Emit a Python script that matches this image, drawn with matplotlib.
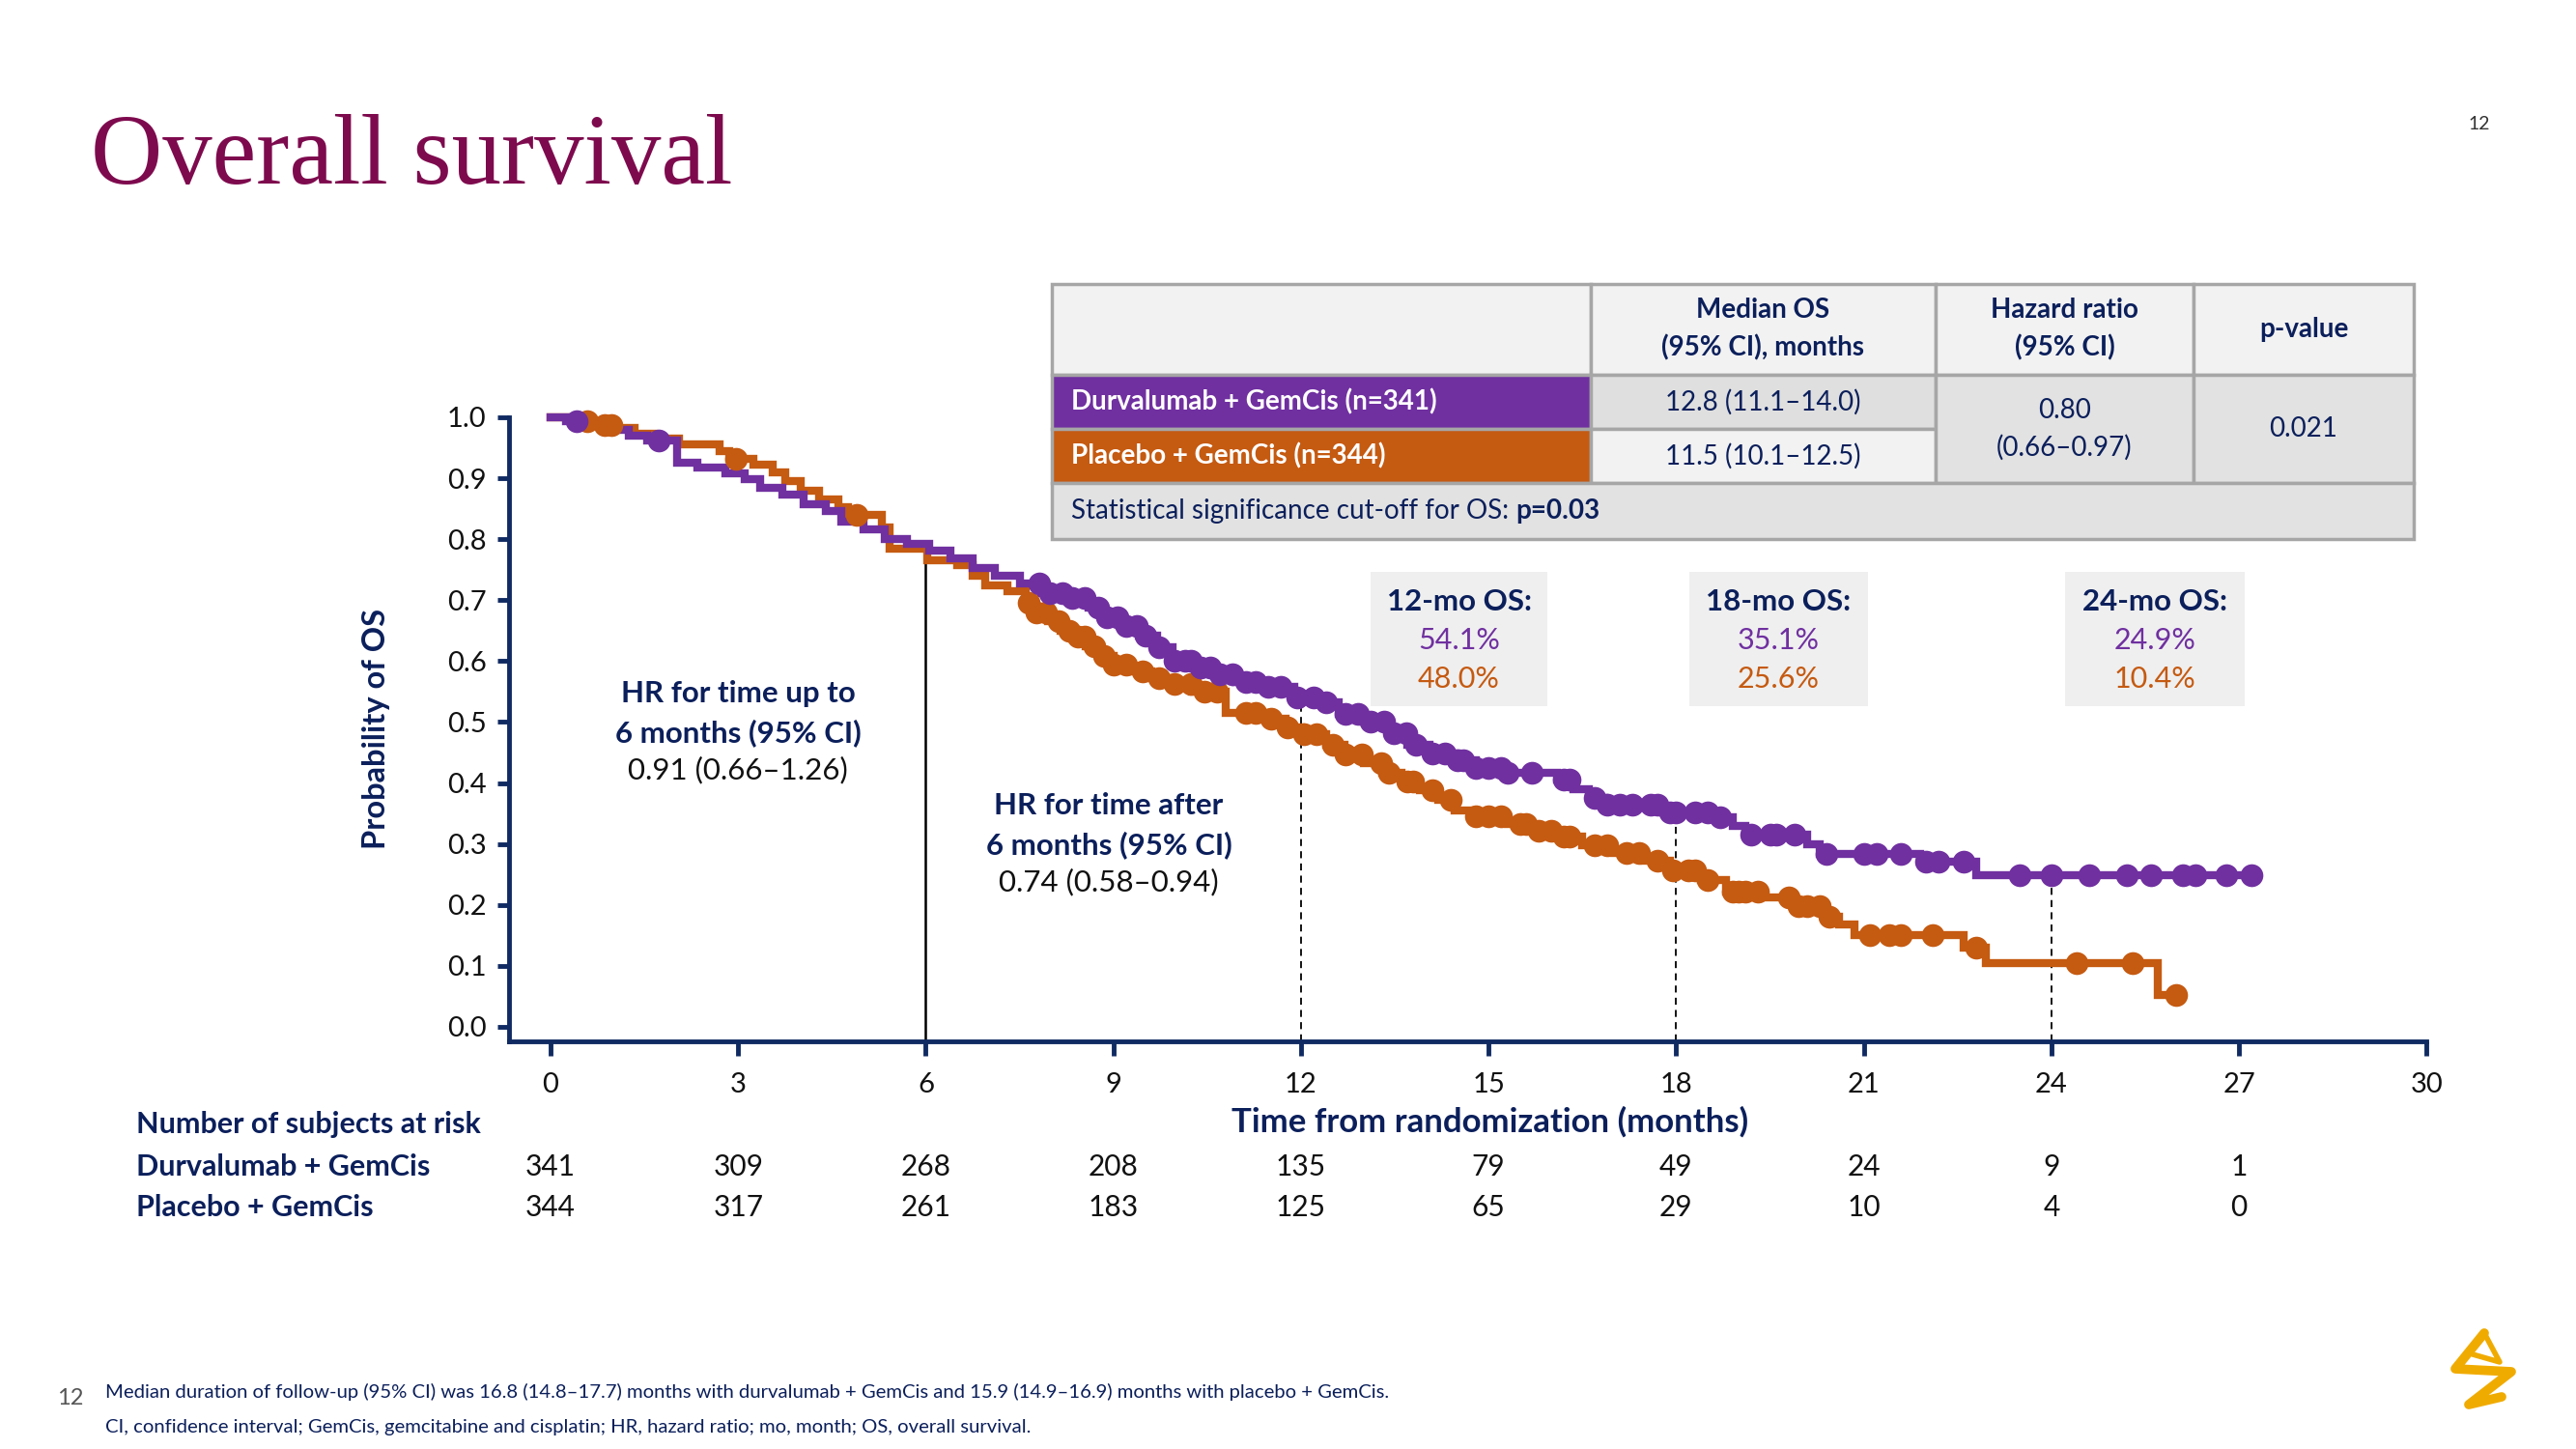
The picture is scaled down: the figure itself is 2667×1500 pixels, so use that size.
import numpy as np
import matplotlib.pyplot as plt
from matplotlib import transforms
from matplotlib.patches import Rectangle

plt.rcParams['font.family'] = ['Lato', 'DejaVu Sans']

NAVY = '#0B1F5B'
AXIS = '#102A62'
PURPLE = '#7030A0'
ORANGE = '#C55A11'
DARK = '#111111'

# ---- data ----
dur_times = [0, 0.25, 0.55, 0.9, 1.25, 1.55, 2.02, 2.35, 2.8, 3.1, 3.35, 3.7, 4.05, 4.4,
             4.65, 5.0, 5.35, 5.7, 6.05, 6.4, 6.75, 7.1, 7.5, 7.85, 8.3, 8.6, 8.85, 9.1,
             9.4, 9.7, 9.95, 10.3, 10.6, 10.95, 11.4, 11.9, 12.3, 12.6, 13.0, 13.4, 13.7,
             14.05, 14.5, 14.8, 15.3, 16.1, 16.35, 16.6, 16.85, 17.8, 18.7, 18.9, 19.1,
             20.1, 20.3, 21.9, 22.8]
dur_surv = [1.0, 0.994, 0.988, 0.979, 0.970, 0.962, 0.925, 0.917, 0.908, 0.899, 0.884,
            0.873, 0.858, 0.846, 0.829, 0.816, 0.801, 0.793, 0.781, 0.768, 0.752, 0.740,
            0.727, 0.712, 0.703, 0.688, 0.672, 0.657, 0.641, 0.622, 0.600, 0.590, 0.578,
            0.566, 0.557, 0.541, 0.532, 0.514, 0.500, 0.481, 0.463, 0.448, 0.437, 0.424,
            0.416, 0.405, 0.390, 0.375, 0.364, 0.351, 0.344, 0.330, 0.316, 0.300, 0.283,
            0.271, 0.249]
dur_end = 27.2
dur_censor = [0.42, 1.73, 7.82, 7.98, 8.18, 8.34, 8.54, 8.75, 8.90, 9.06, 9.21, 9.37,
              9.52, 9.73, 9.98, 10.14, 10.24, 10.40, 10.55, 10.71, 10.91, 11.12, 11.28,
              11.48, 11.68, 11.94, 12.20, 12.40, 12.71, 12.92, 13.12, 13.33, 13.49, 13.69,
              13.84, 14.10, 14.31, 14.5, 14.6, 14.8, 15.0, 15.2, 15.3, 15.7, 16.2, 16.3,
              16.7, 16.9, 17.1, 17.3, 17.6, 17.7, 17.9, 18.0, 18.3, 18.5, 18.7, 19.2,
              19.5, 19.6, 19.9, 20.4, 21.0, 21.2, 21.6, 22.0, 22.2, 22.6, 23.5, 24.0,
              24.6, 25.2, 25.6, 26.1, 26.3, 26.8, 27.2]

pbo_times = [0, 0.35, 0.75, 1.05, 1.35, 1.65, 2.05, 2.7, 2.85, 3.25, 3.55, 3.75, 4.0,
             4.3, 4.6, 4.75, 5.3, 5.42, 6.02, 6.5, 6.75, 6.95, 7.3, 7.6, 7.75, 7.95,
             8.15, 8.35, 8.55, 8.8, 9.0, 9.3, 9.6, 9.9, 10.25, 10.8, 11.5, 11.75, 12.0,
             12.4, 12.7, 13.0, 13.3, 13.6, 13.9, 14.2, 14.45, 14.8, 15.3, 15.7, 16.1,
             16.5, 17.0, 17.5, 17.9, 18.4, 18.8, 19.4, 19.9, 20.4, 20.6, 20.85, 22.6,
             22.95, 25.7]
pbo_surv = [1.0, 0.994, 0.988, 0.982, 0.973, 0.965, 0.956, 0.944, 0.932, 0.922, 0.910,
            0.895, 0.880, 0.866, 0.853, 0.840, 0.820, 0.785, 0.765, 0.757, 0.740, 0.724,
            0.714, 0.695, 0.680, 0.665, 0.650, 0.640, 0.625, 0.608, 0.595, 0.583, 0.572,
            0.562, 0.550, 0.515, 0.505, 0.492, 0.480, 0.462, 0.447, 0.432, 0.417, 0.402,
            0.388, 0.372, 0.355, 0.345, 0.333, 0.322, 0.312, 0.298, 0.285, 0.272, 0.256,
            0.240, 0.222, 0.212, 0.198, 0.180, 0.168, 0.150, 0.130, 0.104, 0.052]
pbo_end = 26.0
pbo_censor = [0.58, 0.87, 0.97, 2.97, 4.9, 7.65, 7.77, 7.93, 8.13, 8.29, 8.44, 8.54,
              8.70, 8.85, 9.01, 9.21, 9.47, 9.73, 9.98, 10.24, 10.45, 10.65, 11.12,
              11.28, 11.53, 11.79, 12.05, 12.25, 12.51, 12.71, 12.97, 13.28, 13.4, 13.7,
              13.8, 14.1, 14.4, 14.8, 15.0, 15.2, 15.5, 15.6, 15.8, 16.0, 16.2, 16.3,
              16.7, 16.9, 17.2, 17.4, 17.7, 17.95, 18.2, 18.3, 18.5, 18.9, 19.0, 19.1,
              19.3, 19.8, 19.95, 20.1, 20.3, 20.45, 21.1, 21.4, 21.6, 22.1, 22.8, 24.4,
              25.3, 26.0]

landmarks = [12, 18, 24]
os_labels = ['12-mo OS:', '18-mo OS:', '24-mo OS:']
os_dur = ['54.1%', '35.1%', '24.9%']
os_pbo = ['48.0%', '25.6%', '10.4%']

risk_times = [0, 3, 6, 9, 12, 15, 18, 21, 24, 27]
risk_dur = [341, 309, 268, 208, 135, 79, 49, 24, 9, 1]
risk_pbo = [344, 317, 261, 183, 125, 65, 29, 10, 4, 0]


def surv_at(times, surv, t):
    idx = np.searchsorted(times, t, side='right') - 1
    return np.asarray(surv)[idx]


fig = plt.figure(figsize=(26.67, 15), dpi=100)
ax = fig.add_axes([0.1977, 0.2813, 0.7443, 0.4307])

# curves
for times, surv, end, cens, col in [(pbo_times, pbo_surv, pbo_end, pbo_censor, ORANGE),
                                     (dur_times, dur_surv, dur_end, dur_censor, PURPLE)]:
    ax.step(times + [end], surv + [surv[-1]], where='post', color=col, lw=6,
            solid_joinstyle='miter', clip_on=False, zorder=3)
    ax.plot(cens, surv_at(times, surv, cens), 'o', color=col, ms=17, mew=0,
            clip_on=False, zorder=4)

# landmark lines
for lm in landmarks:
    ax.plot([lm, lm], [-0.024, surv_at(dur_times, dur_surv, lm)], color='black', lw=1.3,
            ls=(0, (4, 3)), zorder=2)
ax.plot([6, 6], [-0.024, surv_at(pbo_times, pbo_surv, 6.1)], color='black', lw=1.8, zorder=2)

ax.set_xlim(-0.66, 30)
ax.set_ylim(-0.024, 1.0)
ax.set_xticks(range(0, 31, 3))
ax.set_yticks(np.arange(0, 1.01, 0.1))
ax.set_yticklabels([f'{v:.1f}' for v in np.arange(0, 1.01, 0.1)])
for s in ['top', 'right']:
    ax.spines[s].set_visible(False)
for s in ['left', 'bottom']:
    ax.spines[s].set_color(AXIS)
    ax.spines[s].set_linewidth(3.5)
ax.tick_params(axis='x', length=11, width=3.5, color=AXIS, pad=12, labelsize=21,
               labelcolor=DARK)
ax.tick_params(axis='y', length=9, width=3.5, color=AXIS, pad=8, labelsize=21,
               labelcolor=DARK)
ax.patch.set_alpha(0)

# overlay in pixel coordinates of the slide
ov = fig.add_axes([0, 0, 1, 1], zorder=-1)
ov.set_xlim(0, 2667)
ov.set_ylim(1500, 0)
ov.axis('off')
top = fig.add_axes([0, 0, 1, 1], zorder=5)
top.set_xlim(0, 2667)
top.set_ylim(1500, 0)
top.axis('off')

top.text(94, 190, 'Overall survival', family='Liberation Serif', fontsize=74,
         color='#7E0A4E', va='baseline')
top.text(2567, 129, '12', fontsize=14, color='#333333', ha='center', va='center')

# table
tx = [1089, 1647, 2004, 2271, 2499]
ty = [294, 388, 444, 500, 558]
GRID = '#A6A6A6'
cells = [
    (tx[0], ty[0], tx[1], ty[1], '#F2F2F2'), (tx[1], ty[0], tx[2], ty[1], '#F2F2F2'),
    (tx[2], ty[0], tx[3], ty[1], '#F2F2F2'), (tx[3], ty[0], tx[4], ty[1], '#F2F2F2'),
    (tx[0], ty[1], tx[1], ty[2], PURPLE), (tx[1], ty[1], tx[2], ty[2], '#DFDFDF'),
    (tx[0], ty[2], tx[1], ty[3], ORANGE), (tx[1], ty[2], tx[2], ty[3], '#F2F2F2'),
    (tx[2], ty[1], tx[3], ty[3], '#E2E2E2'), (tx[3], ty[1], tx[4], ty[3], '#E2E2E2'),
    (tx[0], ty[3], tx[4], ty[4], '#E2E2E2'),
]
for x0, y0, x1, y1, fc in cells:
    top.add_patch(Rectangle((x0, y0), x1 - x0, y1 - y0, facecolor=fc, edgecolor=GRID,
                            lw=2.5))
TS = 20
hdr_y = (ty[0] + ty[1]) / 2
top.text((tx[1] + tx[2]) / 2, hdr_y, 'Median OS\n(95% CI), months', ha='center',
         va='center', fontsize=TS, weight='bold', color=NAVY, linespacing=1.55)
top.text((tx[2] + tx[3]) / 2, hdr_y, 'Hazard ratio\n(95% CI)', ha='center', va='center',
         fontsize=TS, weight='bold', color=NAVY, linespacing=1.55)
top.text((tx[3] + tx[4]) / 2, hdr_y, 'p-value', ha='center', va='center', fontsize=TS,
         weight='bold', color=NAVY)
r1 = (ty[1] + ty[2]) / 2
r2 = (ty[2] + ty[3]) / 2
top.text(tx[0] + 20, r1, 'Durvalumab + GemCis (n=341)', va='center', fontsize=TS,
         weight='bold', color='white')
top.text(tx[0] + 20, r2, 'Placebo + GemCis (n=344)', va='center', fontsize=TS,
         weight='bold', color='white')
top.text((tx[1] + tx[2]) / 2, r1, '12.8 (11.1\u201314.0)', ha='center', va='center',
         fontsize=TS, color=NAVY)
top.text((tx[1] + tx[2]) / 2, r2, '11.5 (10.1\u201312.5)', ha='center', va='center',
         fontsize=TS, color=NAVY)
top.text((tx[2] + tx[3]) / 2, ty[2], '0.80\n(0.66\u20130.97)', ha='center', va='center',
         fontsize=TS, color=NAVY, linespacing=1.55)
top.text((tx[3] + tx[4]) / 2, ty[2], '0.021', ha='center', va='center', fontsize=TS,
         color=NAVY)
t1 = top.text(tx[0] + 20, (ty[3] + ty[4]) / 2, 'Statistical significance cut-off for OS: ',
              va='center', fontsize=TS, color=NAVY)
top.annotate('p=0.03', xy=(1, 0.5), xycoords=t1, va='center', fontsize=TS,
             weight='bold', color=NAVY)

# landmark boxes
box_x = [(1419, 1602), (1749, 1934), (2138, 2324)]
for (x0, x1), lab, vd, vp in zip(box_x, os_labels, os_dur, os_pbo):
    ov.add_patch(Rectangle((x0, 592), x1 - x0, 139, facecolor='#EFEFEF', lw=0))
    cx = (x0 + x1) / 2
    top.text(cx, 623, lab, ha='center', va='center', fontsize=22.5, weight='bold', color=NAVY)
    top.text(cx, 663, vd, ha='center', va='center', fontsize=22, color=PURPLE)
    top.text(cx, 703, vp, ha='center', va='center', fontsize=22, color=ORANGE)

# HR annotations
HS = 22.5
top.text(764, 718, 'HR for time up to', ha='center', va='center', fontsize=HS,
         weight='bold', color=NAVY)
top.text(764, 759, '6 months (95% CI)', ha='center', va='center', fontsize=HS,
         weight='bold', color=NAVY)
top.text(764, 797, '0.91 (0.66\u20131.26)', ha='center', va='center', fontsize=HS,
         color=DARK)
top.text(1148, 834, 'HR for time after', ha='center', va='center', fontsize=HS,
         weight='bold', color=NAVY)
top.text(1148, 875, '6 months (95% CI)', ha='center', va='center', fontsize=HS,
         weight='bold', color=NAVY)
top.text(1148, 913, '0.74 (0.58\u20130.94)', ha='center', va='center', fontsize=HS,
         color=DARK)

# axis labels
top.text(390, 754, 'Probability of OS', rotation=90, ha='center', va='center',
         fontsize=23.5, weight='bold', color=NAVY)
top.text(1543, 1161, 'Time from randomization (months)', ha='center', va='center',
         fontsize=25, weight='bold', color=NAVY)

# number at risk
top.text(141, 1164, 'Number of subjects at risk', va='center', fontsize=22,
         weight='bold', color=NAVY)
top.text(141, 1208, 'Durvalumab + GemCis', va='center', fontsize=22, weight='bold',
         color=NAVY)
top.text(141, 1250, 'Placebo + GemCis', va='center', fontsize=22, weight='bold',
         color=NAVY)
blend = transforms.blended_transform_factory(ax.transData, top.transData)
for t, a, b in zip(risk_times, risk_dur, risk_pbo):
    top.text(t, 1208, str(a), transform=blend, ha='center', va='center', fontsize=21.5,
             color=DARK)
    top.text(t, 1250, str(b), transform=blend, ha='center', va='center', fontsize=21.5,
             color=DARK)

# footnotes
top.text(73, 1448, '12', ha='center', va='center', fontsize=17, color='#555555')
top.text(109, 1441, 'Median duration of follow-up (95% CI) was 16.8 (14.8\u201317.7) months '
         'with durvalumab + GemCis and 15.9 (14.9\u201316.9) months with placebo + GemCis.',
         va='center', fontsize=14.6, color=NAVY)
top.text(109, 1477, 'CI, confidence interval; GemCis, gemcitabine and cisplatin; HR, hazard '
         'ratio; mo, month; OS, overall survival.', va='center', fontsize=14.6, color=NAVY)

# logo (rough sketch)
GOLD = '#F0AB00'
top.plot([2572, 2542, 2600, 2556, 2590], [1380, 1417, 1420, 1454, 1446], color=GOLD,
         lw=7, solid_capstyle='round', solid_joinstyle='round')
top.plot([2572, 2588, 2560], [1380, 1410, 1402], color=GOLD, lw=4,
         solid_capstyle='round', solid_joinstyle='round')

fig.savefig('out.png', dpi=100)
